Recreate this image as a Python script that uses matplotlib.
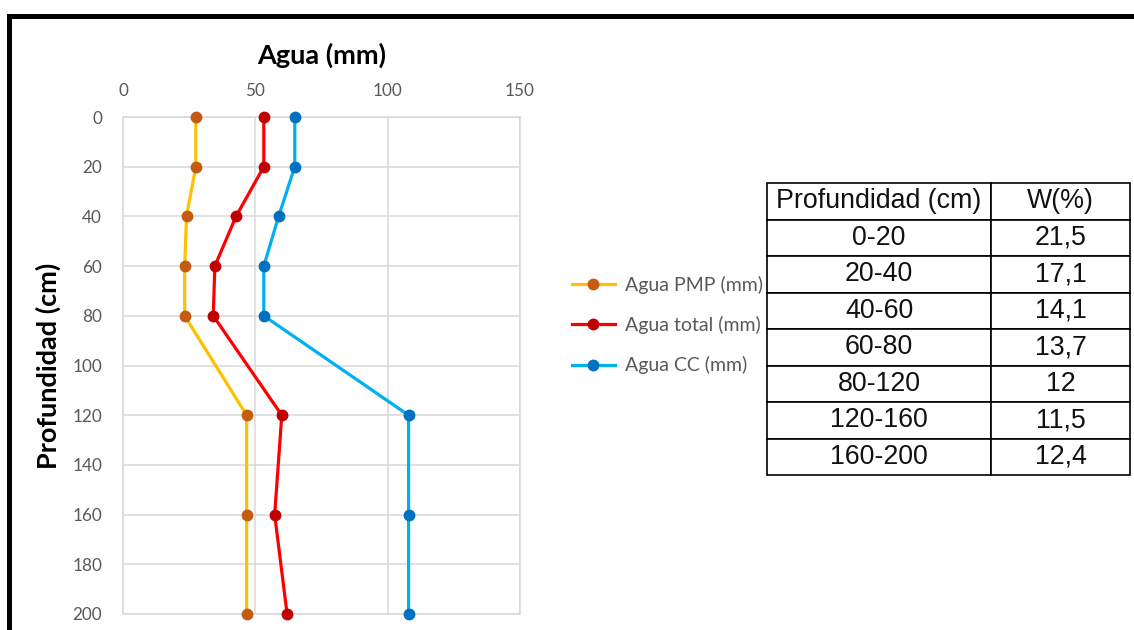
import matplotlib
matplotlib.use("Agg")
import matplotlib.pyplot as plt
from matplotlib.patches import Rectangle

# data
depth = [0, 20, 40, 60, 80, 120, 160, 200]
agua_pmp = [27.5, 27.5, 24.0, 23.3, 23.3, 46.7, 46.7, 46.7]
agua_total = [53.2, 53.2, 42.7, 34.7, 34.1, 60.0, 57.3, 62.0]
agua_cc = [64.9, 64.9, 58.8, 53.2, 53.2, 107.9, 107.9, 107.9]

tabla_prof = ["0-20", "20-40", "40-60", "60-80", "80-120", "120-160", "160-200"]
tabla_w = ["21,5", "17,1", "14,1", "13,7", "12", "11,5", "12,4"]

plt.rcParams["font.family"] = ["Lato", "DejaVu Sans"]

W, H = 1134, 630
TXT = "#595959"
GRID = "#D9D9D9"

fig = plt.figure(figsize=(W / 100, H / 100), dpi=100)
fig.patch.set_facecolor("white")

# plot area (pixel box 123..520 x 117..614)
ax = fig.add_axes([123 / W, 1 - 614 / H, 397 / W, 497 / H])

series = [
    (agua_pmp, "#FFC000", "#C55A11", "Agua PMP (mm)"),
    (agua_total, "#FF0000", "#C00000", "Agua total (mm)"),
    (agua_cc, "#00B0F0", "#0070C0", "Agua CC (mm)"),
]
for vals, lc, mc, lab in series:
    ax.plot(vals, depth, color=lc, lw=2.3, marker="o", ms=7.5,
            mfc=mc, mec=mc, label=lab, zorder=3, clip_on=False)

ax.set_xlim(0, 150)
ax.set_ylim(200, 0)
ax.set_xticks([0, 50, 100, 150])
ax.set_yticks(range(0, 201, 20))
ax.xaxis.tick_top()
ax.xaxis.set_label_position("top")
ax.tick_params(axis="both", length=0, labelcolor=TXT, labelsize=12.3)
ax.tick_params(axis="x", pad=13)
ax.tick_params(axis="y", pad=15)

ax.grid(True, color=GRID, lw=1.1)
ax.set_axisbelow(True)
for sp in ax.spines.values():
    sp.set_color(GRID)
    sp.set_linewidth(1.1)

ax.set_xlabel("Agua (mm)", fontsize=19.5, fontweight="bold", color="black", labelpad=14)
ax.set_ylabel("Profundidad (cm)", fontsize=19.5, fontweight="bold", color="black", labelpad=8)

# legend
handles, labels = ax.get_legend_handles_labels()
fig.legend(handles, labels, loc="center left", bbox_to_anchor=(572 / W, 1 - 325 / H),
           frameon=False, borderpad=0, borderaxespad=0, handlelength=2.2,
           handletextpad=0.55, labelspacing=1.15, fontsize=14, labelcolor=TXT)

# table
tax = fig.add_axes([767 / W, 1 - 475 / H, 363 / W, 292 / H])
tax.axis("off")
cells = [[p, w] for p, w in zip(tabla_prof, tabla_w)]
tbl = tax.table(cellText=cells, colLabels=["Profundidad (cm)", "W(%)"],
                cellLoc="center", bbox=[0, 0, 1, 1], colWidths=[224 / 363, 139 / 363])
tbl.auto_set_font_size(False)
tbl.set_fontsize(19.3)
for (r, c), cell in tbl.get_celld().items():
    cell.set_edgecolor("black")
    cell.set_linewidth(1.2)
    cell.get_text().set_fontfamily("Liberation Sans")
    cell.get_text().set_color("#111111")

# screenshot frame (black top and left edges)
fig.add_artist(Rectangle((7 / W, 1 - 18.5 / H), 1, 5 / H, transform=fig.transFigure,
                         facecolor="black", edgecolor="none"))
fig.add_artist(Rectangle((7 / W, 0), 4.5 / W, 1 - 13.5 / H, transform=fig.transFigure,
                         facecolor="black", edgecolor="none"))

fig.savefig("out.png", dpi=100)
